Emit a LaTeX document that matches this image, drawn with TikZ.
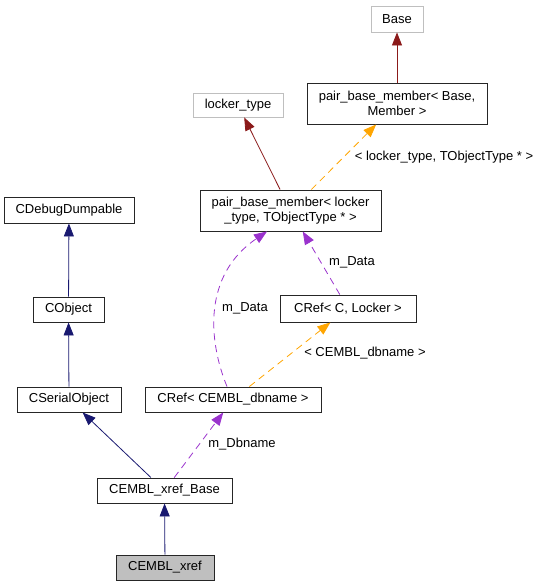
\documentclass[tikz,border=0pt]{standalone}
\usepackage{fontspec}
\setmainfont{Liberation Sans}
\usetikzlibrary{arrows.meta}
\definecolor{inhred}{HTML}{8B1A1A}
\definecolor{inhblue}{HTML}{191970}
\definecolor{usepurple}{HTML}{9A32CD}
\definecolor{tplorange}{HTML}{FFA500}
\definecolor{boxgray}{HTML}{BFBFBF}
\begin{document}
\begin{tikzpicture}[x=1pt,y=-1pt,>={Triangle[length=13pt,width=10pt]},
                        font=\fontsize{13}{14.5}\selectfont,
                        cls/.style={draw=black!85,line width=0.9pt,inner sep=0pt,minimum height=25pt},
                        twoline/.style={cls,align=center,minimum height=41pt},
                        ext/.style={cls,draw=boxgray},
                        lbl/.style={inner sep=0pt},
                        red/.style={->,draw=inhred,line width=0.8pt},
                        blue/.style={->,draw=inhblue,line width=0.8pt},
                        uses/.style={->,draw=usepurple,line width=0.8pt,dash pattern=on 7pt off 5pt},
                        tpl/.style={->,draw=tplorange,line width=0.8pt,dash pattern=on 7pt off 5pt}]
                        \useasboundingbox (0,0) rectangle (543,587);

                        \node[ext,minimum width=52pt,minimum height=26pt] (base) at(397,19) {Base};
                        \node[twoline,minimum width=180pt] (pbmBM) at(397,103.5) {pair\_base\_member< Base,\\Member >};
                        \node[ext,minimum width=90pt,minimum height=24pt] (lockertype) at(238,105) {locker\_type};
                        \node[twoline,minimum width=181pt] (pbmLT) at(290.5,210.5) {pair\_base\_member< locker\\\_type, TObjectType * >};
                        \node[cls,minimum width=130pt,minimum height=26pt] (dumpable) at(69,210) {CDebugDumpable};
                        \node[cls,minimum width=71pt] (cobject) at(68.5,309.5) {CObject};
                        \node[cls,minimum width=104pt] (serial) at(69,399.5) {CSerialObject};
                        \node[cls,minimum width=176pt] (crefdb) at(233,399.5) {CRef< CEMBL\_dbname >};
                        \node[cls,minimum width=136pt,minimum height=27pt] (crefcl) at(348,308.5) {CRef< C, Locker >};
                        \node[cls,minimum width=135pt] (xrefbase) at(164.5,490.5) {CEMBL\_xref\_Base};
                        \node[cls,minimum width=98pt,fill=boxgray] (xref) at(165,567.5) {CEMBL\_xref};

                        \draw[red] (pbmBM) -- (base);
                        \draw[red] (pbmLT) -- (lockertype);
                        \draw[tpl] (pbmLT) -- (pbmBM);
                        \draw[blue] (cobject) -- (dumpable);
                        \draw[blue] (serial) -- (cobject);
                        \draw[blue] (xrefbase) -- (serial);
                        \draw[blue] (xref) -- (xrefbase);
                        \draw[uses] (xrefbase) -- (crefdb);
                        \draw[tpl] (crefdb) -- (crefcl);
                        \draw[uses] (crefcl) -- (pbmLT);
                        \draw[uses] ([xshift=-6pt]crefdb.north) .. controls (208,340) and (203,275) .. ([xshift=-23.5pt]pbmLT.south);

                        \node[lbl] (lblLT) at(444,157) {< locker\_type, TObjectType * >};
                        \node[lbl] (lblDataA) at(245,308) {m\_Data};
                        \node[lbl] (lblDataB) at(352,262) {m\_Data};
                        \node[lbl] (lblDb) at(365,353) {< CEMBL\_dbname >};
                        \node[lbl] (lblDbname) at(242,444) {m\_Dbname};
                    \end{tikzpicture}
\end{document}
